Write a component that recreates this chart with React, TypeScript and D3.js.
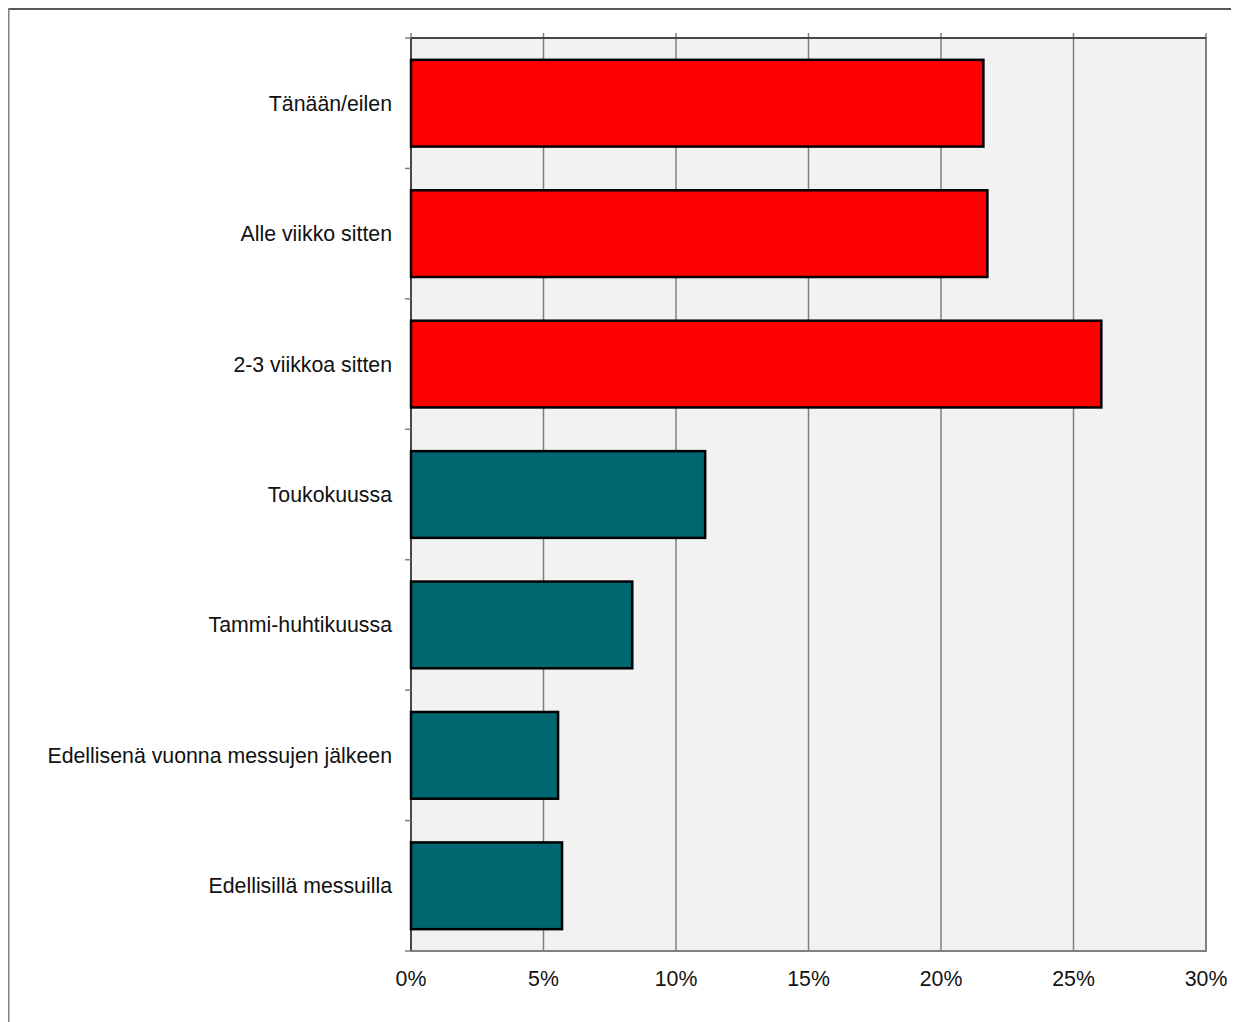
import React from "react";
import * as d3 from "d3";

const categories = [
  "Tänään/eilen",
  "Alle viikko sitten",
  "2-3 viikkoa sitten",
  "Toukokuussa",
  "Tammi-huhtikuussa",
  "Edellisenä vuonna messujen jälkeen",
  "Edellisillä messuilla",
];
const values = [21.6, 21.75, 26.05, 11.1, 8.35, 5.55, 5.7];
const barColors = ["#FF0000", "#FF0000", "#FF0000", "#006670", "#006670", "#006670", "#006670"];
const xTicks = [0, 5, 10, 15, 20, 25, 30];

const W = 1231;
const H = 1014;
const left = 403;
const right = 1198;
const top = 30;
const bottom = 943;

export default function App() {
  const x = d3.scaleLinear().domain([0, 30]).range([left, right]);
  const y = d3.scaleBand<string>().domain(categories).range([top, bottom]).paddingInner(0.335).paddingOuter(0.1675);
  const step = y.step();
  const font = "'Liberation Sans', Arial, sans-serif";
  return (
    <svg width={W} height={H} style={{ display: "block" }}>
      <rect x={0} y={0} width={W} height={H} fill="#fff" />
      <line x1={0.5} y1={1} x2={W} y2={1} stroke="#222" strokeWidth={1.5} />
      <line x1={0.75} y1={0} x2={0.75} y2={H} stroke="#808080" strokeWidth={1.5} />
      <rect x={left} y={top} width={right - left} height={bottom - top} fill="#F2F2F2" stroke="#808080" strokeWidth={2} />
      {xTicks.map((t) => (
        <line key={"g" + t} x1={x(t)} x2={x(t)} y1={top - 5} y2={bottom} stroke="#808080" strokeWidth={1.5} />
      ))}
      <line x1={left} x2={right} y1={top} y2={top} stroke="#333" strokeWidth={1.5} />
      <line x1={left} x2={left} y1={top} y2={bottom} stroke="#333" strokeWidth={1.5} />
      {d3.range(categories.length + 1).map((i) => (
        <line key={"t" + i} x1={left - 6} x2={left} y1={top + i * step} y2={top + i * step} stroke="#808080" strokeWidth={1.5} />
      ))}
      {categories.map((c, i) => (
        <rect
          key={c}
          x={x(0)}
          y={y(c)!}
          width={x(values[i]) - x(0)}
          height={y.bandwidth()}
          fill={barColors[i]}
          stroke="#000"
          strokeWidth={2.5}
        />
      ))}
      {categories.map((c) => (
        <text key={"l" + c} x={left - 19} y={y(c)! + y.bandwidth() / 2} dy="0.35em" textAnchor="end" fontFamily={font} fontSize={21.3} fill="#111">
          {c}
        </text>
      ))}
      {xTicks.map((t) => (
        <text key={"x" + t} x={x(t)} y={bottom + 35} textAnchor="middle" fontFamily={font} fontSize={21.3} fill="#111">
          {t + "%"}
        </text>
      ))}
    </svg>
  );
}
